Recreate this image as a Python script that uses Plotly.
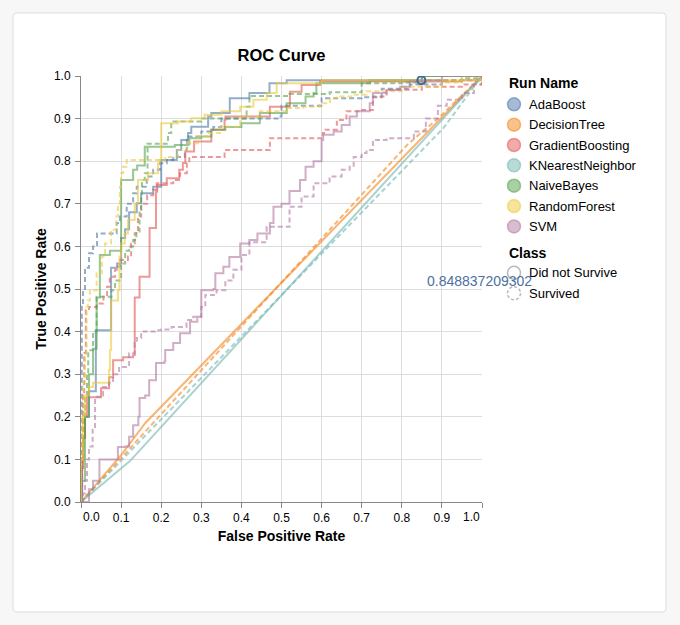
import plotly.graph_objects as go

# ---------------- data ----------------
RUN_NAMES = ["AdaBoost", "DecisionTree", "GradientBoosting", "KNearestNeighbor",
             "NaiveBayes", "RandomForest", "SVM"]
RUN_COLORS = ["#4c78a8", "#f58518", "#e45756", "#72b7b2", "#54a24b", "#eeca3b", "#b279a2"]
CLASS_NAMES = ["Did not Survive", "Survived"]
TICK_VALUES = [0.0, 0.1, 0.2, 0.3, 0.4, 0.5, 0.6, 0.7, 0.8, 0.9, 1.0]
TICK_LABELS = ["0.0", "0.1", "0.2", "0.3", "0.4", "0.5", "0.6", "0.7", "0.8", "0.9", "1.0"]

ada_dns_fpr = [0, 0.003, 0.003, 0.006, 0.01, 0.02, 0.037, 0.037, 0.075, 0.075, 0.09, 0.1, 0.11, 0.12, 0.139, 0.15, 0.18, 0.2, 0.2, 0.23, 0.239, 0.25, 0.267, 0.275, 0.317, 0.325, 0.367, 0.371, 0.42, 0.47, 0.513, 0.85, 1.0]
ada_dns_tpr = [0, 0, 0.1, 0.15, 0.2, 0.26, 0.26, 0.403, 0.403, 0.55, 0.56, 0.62, 0.64, 0.68, 0.701, 0.725, 0.74, 0.764, 0.803, 0.803, 0.826, 0.85, 0.866, 0.881, 0.905, 0.913, 0.913, 0.948, 0.96, 0.983, 0.99, 1.0, 1.0]
ada_sur_fpr = [0, 0.002, 0.002, 0.005, 0.01, 0.02, 0.03, 0.04, 0.089, 0.089, 0.097, 0.114, 0.13, 0.139, 0.164, 0.18, 0.197, 0.214, 0.23, 0.259, 0.264, 0.3, 0.33, 0.35, 0.49, 0.5, 0.6, 0.7, 0.75, 0.82, 0.9, 1.0, 1.0]
ada_sur_tpr = [0, 0, 0.467, 0.5, 0.55, 0.584, 0.6, 0.63, 0.63, 0.655, 0.67, 0.7, 0.725, 0.74, 0.764, 0.78, 0.795, 0.803, 0.81, 0.826, 0.858, 0.87, 0.88, 0.9, 0.905, 0.93, 0.948, 0.95, 0.97, 0.98, 0.99, 0.99, 1.0]

dt_dns_fpr = [0, 0.1, 0.16, 1.0]
dt_dns_tpr = [0, 0.11, 0.185, 1.0]
dt_sur_fpr = [0, 0.815, 0.89, 1.0]
dt_sur_tpr = [0, 0.84, 0.9, 1.0]

gb_dns_fpr = [0, 0.002, 0.005, 0.01, 0.015, 0.05, 0.05, 0.07, 0.07, 0.08, 0.08, 0.105, 0.13, 0.134, 0.134, 0.146, 0.146, 0.171, 0.171, 0.187, 0.187, 0.19, 0.214, 0.245, 0.245, 0.254, 0.26, 0.282, 0.325, 0.358, 0.36, 0.471, 0.521, 0.55, 0.596, 0.95, 1.0]
gb_dns_tpr = [0, 0.08, 0.15, 0.2, 0.246, 0.246, 0.267, 0.267, 0.293, 0.293, 0.333, 0.34, 0.345, 0.356, 0.48, 0.486, 0.529, 0.54, 0.643, 0.646, 0.728, 0.744, 0.76, 0.768, 0.78, 0.796, 0.823, 0.846, 0.874, 0.897, 0.905, 0.928, 0.963, 0.979, 0.987, 0.99, 1.0]
gb_sur_fpr = [0, 0, 0.003, 0.005, 0.008, 0.012, 0.02, 0.039, 0.056, 0.065, 0.072, 0.085, 0.092, 0.097, 0.117, 0.125, 0.134, 0.142, 0.15, 0.165, 0.18, 0.189, 0.215, 0.23, 0.247, 0.264, 0.27, 0.358, 0.358, 0.454, 0.471, 0.603, 0.61, 0.638, 0.662, 0.696, 0.728, 0.762, 0.85, 0.95, 1.0, 1.0]
gb_sur_tpr = [0, 0.08, 0.15, 0.25, 0.35, 0.45, 0.458, 0.466, 0.482, 0.505, 0.529, 0.545, 0.552, 0.568, 0.576, 0.607, 0.631, 0.67, 0.7, 0.72, 0.733, 0.748, 0.748, 0.756, 0.772, 0.795, 0.81, 0.81, 0.826, 0.826, 0.854, 0.866, 0.874, 0.897, 0.917, 0.92, 0.952, 0.968, 0.975, 0.98, 0.985, 1.0]

knn_dns_fpr = [0, 0.122, 1.0]
knn_dns_tpr = [0, 0.096, 1.0]
knn_sur_fpr = [0, 0.904, 1.0]
knn_sur_tpr = [0, 0.878, 1.0]

nb_dns_fpr = [0, 0, 0.01, 0.01, 0.015, 0.02, 0.03, 0.03, 0.039, 0.039, 0.047, 0.047, 0.072, 0.072, 0.1, 0.1, 0.13, 0.13, 0.14, 0.159, 0.159, 0.225, 0.234, 0.267, 0.27, 0.3, 0.325, 0.36, 0.4, 0.446, 0.513, 0.56, 0.58, 0.587, 0.72, 0.72, 0.85, 0.85, 1.0]
nb_dns_tpr = [0, 0.05, 0.05, 0.2, 0.2, 0.3, 0.3, 0.36, 0.36, 0.48, 0.48, 0.58, 0.58, 0.59, 0.59, 0.756, 0.756, 0.78, 0.79, 0.8, 0.834, 0.834, 0.838, 0.84, 0.854, 0.858, 0.874, 0.88, 0.889, 0.913, 0.936, 0.952, 0.96, 0.983, 0.983, 0.99, 0.99, 1.0, 1.0]
nb_sur_fpr = [0, 0, 0.005, 0.005, 0.01, 0.015, 0.018, 0.03, 0.039, 0.055, 0.076, 0.085, 0.1, 0.11, 0.12, 0.13, 0.138, 0.146, 0.15, 0.152, 0.159, 0.166, 0.166, 0.2, 0.217, 0.225, 0.3, 0.41, 0.413, 0.42, 0.52, 0.62, 0.7, 0.81, 0.86, 0.95, 1.0]
nb_sur_tpr = [0, 0.12, 0.12, 0.2, 0.25, 0.3, 0.356, 0.4, 0.482, 0.482, 0.497, 0.52, 0.56, 0.59, 0.6, 0.615, 0.631, 0.686, 0.72, 0.756, 0.772, 0.78, 0.841, 0.841, 0.866, 0.893, 0.9, 0.9, 0.928, 0.953, 0.958, 0.962, 0.983, 0.985, 0.99, 0.995, 1.0]

rf_dns_fpr = [0, 0, 0.005, 0.005, 0.01, 0.02, 0.03, 0.062, 0.07, 0.072, 0.075, 0.075, 0.092, 0.096, 0.1, 0.109, 0.117, 0.134, 0.142, 0.142, 0.167, 0.192, 0.196, 0.2, 0.242, 0.275, 0.308, 0.35, 0.397, 0.43, 0.463, 0.488, 0.488, 0.58, 0.6, 0.88, 1.0]
rf_dns_tpr = [0, 0.1, 0.1, 0.2, 0.25, 0.27, 0.28, 0.28, 0.31, 0.356, 0.427, 0.473, 0.497, 0.576, 0.607, 0.63, 0.662, 0.7, 0.733, 0.756, 0.772, 0.795, 0.803, 0.889, 0.893, 0.901, 0.909, 0.917, 0.928, 0.944, 0.96, 0.979, 0.983, 0.983, 0.99, 0.99, 1.0]
rf_sur_fpr = [0, 0, 0.003, 0.006, 0.01, 0.014, 0.017, 0.022, 0.039, 0.052, 0.06, 0.075, 0.088, 0.092, 0.097, 0.1, 0.105, 0.114, 0.2, 0.21, 0.242, 0.265, 0.292, 0.317, 0.347, 0.397, 0.446, 0.513, 0.554, 0.596, 0.621, 0.638, 0.679, 0.712, 0.8, 0.9, 0.95, 1.0]
rf_sur_tpr = [0, 0.1, 0.2, 0.28, 0.34, 0.458, 0.473, 0.497, 0.537, 0.576, 0.607, 0.639, 0.67, 0.7, 0.74, 0.772, 0.787, 0.803, 0.803, 0.81, 0.826, 0.842, 0.858, 0.866, 0.881, 0.905, 0.917, 0.925, 0.928, 0.936, 0.948, 0.952, 0.956, 0.964, 0.975, 0.985, 1.0, 1.0]

svm_dns_fpr = [0, 0.02, 0.02, 0.03, 0.046, 0.046, 0.07, 0.092, 0.11, 0.12, 0.13, 0.143, 0.146, 0.16, 0.17, 0.187, 0.208, 0.21, 0.23, 0.247, 0.272, 0.29, 0.3, 0.33, 0.335, 0.355, 0.37, 0.397, 0.42, 0.44, 0.471, 0.48, 0.5, 0.52, 0.546, 0.56, 0.58, 0.6, 0.604, 0.63, 0.65, 0.67, 0.688, 0.72, 0.728, 0.762, 0.796, 0.82, 0.85, 0.9, 1.0]
svm_dns_tpr = [0, 0, 0.03, 0.05, 0.082, 0.1, 0.1, 0.129, 0.13, 0.153, 0.18, 0.2, 0.244, 0.25, 0.286, 0.326, 0.33, 0.357, 0.373, 0.396, 0.423, 0.435, 0.497, 0.5, 0.537, 0.552, 0.575, 0.607, 0.615, 0.63, 0.655, 0.693, 0.7, 0.73, 0.756, 0.787, 0.8, 0.85, 0.862, 0.87, 0.885, 0.905, 0.917, 0.936, 0.96, 0.967, 0.975, 0.987, 0.99, 1.0, 1.0]
svm_sur_fpr = [0, 0.005, 0.01, 0.015, 0.02, 0.029, 0.035, 0.05, 0.055, 0.07, 0.08, 0.095, 0.12, 0.134, 0.139, 0.15, 0.187, 0.2, 0.226, 0.263, 0.28, 0.3, 0.31, 0.338, 0.36, 0.38, 0.4, 0.42, 0.463, 0.52, 0.55, 0.58, 0.62, 0.65, 0.67, 0.68, 0.7, 0.712, 0.728, 0.762, 0.812, 0.83, 0.86, 0.89, 0.912, 0.95, 0.98, 1.0]
svm_sur_tpr = [0, 0.02, 0.05, 0.1, 0.13, 0.176, 0.247, 0.25, 0.27, 0.28, 0.3, 0.317, 0.349, 0.373, 0.385, 0.4, 0.403, 0.405, 0.411, 0.427, 0.435, 0.458, 0.486, 0.497, 0.52, 0.545, 0.58, 0.61, 0.646, 0.693, 0.717, 0.748, 0.764, 0.78, 0.787, 0.81, 0.819, 0.826, 0.85, 0.854, 0.854, 0.87, 0.9, 0.93, 0.944, 0.96, 0.98, 1.0]

# highlighted point and its label
HOVER_FPR = [0.8488]
HOVER_TPR = [0.99]
HOVER_LABEL = "0.848837209302"
LABEL_FPR = 0.858
LABEL_TPR = 0.518

CURVES = {
    ("AdaBoost", "Did not Survive"): (ada_dns_fpr, ada_dns_tpr),
    ("AdaBoost", "Survived"): (ada_sur_fpr, ada_sur_tpr),
    ("DecisionTree", "Did not Survive"): (dt_dns_fpr, dt_dns_tpr),
    ("DecisionTree", "Survived"): (dt_sur_fpr, dt_sur_tpr),
    ("GradientBoosting", "Did not Survive"): (gb_dns_fpr, gb_dns_tpr),
    ("GradientBoosting", "Survived"): (gb_sur_fpr, gb_sur_tpr),
    ("KNearestNeighbor", "Did not Survive"): (knn_dns_fpr, knn_dns_tpr),
    ("KNearestNeighbor", "Survived"): (knn_sur_fpr, knn_sur_tpr),
    ("NaiveBayes", "Did not Survive"): (nb_dns_fpr, nb_dns_tpr),
    ("NaiveBayes", "Survived"): (nb_sur_fpr, nb_sur_tpr),
    ("RandomForest", "Did not Survive"): (rf_dns_fpr, rf_dns_tpr),
    ("RandomForest", "Survived"): (rf_sur_fpr, rf_sur_tpr),
    ("SVM", "Did not Survive"): (svm_dns_fpr, svm_dns_tpr),
    ("SVM", "Survived"): (svm_sur_fpr, svm_sur_tpr),
}

# ---------------- layout geometry (pixels) ----------------
FIG_W, FIG_H = 680, 625
PL, PR, PT, PB = 81, 482, 76, 502
PW, PH = PR - PL, PB - PT
FONT = "Liberation Sans, Arial, Helvetica, sans-serif"
DASH = "5px,3px"


def px_x(p):
    return (p - PL) / PW


def px_y(p):
    return (PB - p) / PH


def rgba(hex_color, a):
    h = hex_color.lstrip("#")
    r, g, b = int(h[0:2], 16), int(h[2:4], 16), int(h[4:6], 16)
    return f"rgba({r},{g},{b},{a})"


fig = go.Figure()

for run, color in zip(RUN_NAMES, RUN_COLORS):
    for cls in CLASS_NAMES:
        fpr, tpr = CURVES[(run, cls)]
        shape = "linear" if run in ("DecisionTree", "KNearestNeighbor") else "hv"
        fig.add_trace(go.Scatter(
            x=fpr, y=tpr, mode="lines",
            line=dict(color=color, width=2, shape=shape,
                      dash="solid" if cls == "Did not Survive" else DASH),
            opacity=0.6, showlegend=False, hoverinfo="skip",
            name=f"{run} / {cls}",
        ))

fig.add_trace(go.Scatter(
    x=HOVER_FPR, y=HOVER_TPR, mode="markers",
    marker=dict(symbol="circle-open", size=8, color="#3d6797", line=dict(width=2)),
    showlegend=False, hoverinfo="skip",
))

shapes = []
annotations = []

# card background
cl, cr, ct, cb, rr = 13, 666, 13, 612, 4
pts = [
    ("M", cl + rr, ct), ("L", cr - rr, ct), ("Q", cr, ct, cr, ct + rr),
    ("L", cr, cb - rr), ("Q", cr, cb, cr - rr, cb), ("L", cl + rr, cb),
    ("Q", cl, cb, cl, cb - rr), ("L", cl, ct + rr), ("Q", cl, ct, cl + rr, ct),
]
path = ""
for p in pts:
    if p[0] == "Q":
        path += f"Q{px_x(p[1]):.5f},{px_y(p[2]):.5f} {px_x(p[3]):.5f},{px_y(p[4]):.5f} "
    else:
        path += f"{p[0]}{px_x(p[1]):.5f},{px_y(p[2]):.5f} "
path += "Z"
shapes.append(dict(type="path", path=path, xref="paper", yref="paper",
                   fillcolor="white", line=dict(color="#dddddd", width=1), layer="below"))

# legend: Run Name
LEG_X_SYM, LEG_X_TXT = 514, 527
annotations.append(dict(text="<b>Run Name</b>", x=px_x(507), y=px_y(83), xref="paper", yref="paper",
                        xanchor="left", yanchor="middle", showarrow=False,
                        font=dict(size=14, color="#000", family=FONT)))
for i, (run, color) in enumerate(zip(RUN_NAMES, RUN_COLORS)):
    yc = 104.3 + 20.35 * i
    shapes.append(dict(type="circle", xref="paper", yref="paper", xsizemode="pixel", ysizemode="pixel",
                       xanchor=px_x(LEG_X_SYM), yanchor=px_y(yc), x0=-6.5, x1=6.5, y0=-6.5, y1=6.5,
                       fillcolor=rgba(color, 0.5), line=dict(color=rgba(color, 0.55), width=1.5)))
    annotations.append(dict(text=run, x=px_x(LEG_X_TXT), y=px_y(yc), xref="paper", yref="paper",
                            xanchor="left", yanchor="middle", showarrow=False,
                            font=dict(size=13, color="#000", family=FONT)))

# legend: Class
annotations.append(dict(text="<b>Class</b>", x=px_x(507), y=px_y(252.5), xref="paper", yref="paper",
                        xanchor="left", yanchor="middle", showarrow=False,
                        font=dict(size=14, color="#000", family=FONT)))
for i, cls in enumerate(CLASS_NAMES):
    yc = 272.8 + 20.5 * i
    shapes.append(dict(type="circle", xref="paper", yref="paper", xsizemode="pixel", ysizemode="pixel",
                       xanchor=px_x(LEG_X_SYM), yanchor=px_y(yc), x0=-6.5, x1=6.5, y0=-6.5, y1=6.5,
                       fillcolor="rgba(0,0,0,0)",
                       line=dict(color="rgba(136,136,136,0.6)", width=1.5,
                                 dash="solid" if i == 0 else "3px,2px")))
    annotations.append(dict(text=cls, x=px_x(LEG_X_TXT), y=px_y(yc), xref="paper", yref="paper",
                            xanchor="left", yanchor="middle", showarrow=False,
                            font=dict(size=13, color="#000", family=FONT)))

# value label
annotations.append(dict(text=HOVER_LABEL, x=LABEL_FPR, y=LABEL_TPR, xref="x", yref="y",
                        xanchor="left", yanchor="middle", showarrow=False,
                        font=dict(size=14, color="#4c6f9e", family=FONT)))

# x tick labels: first/last are flush with the axis ends (Vega style)
x_ticktext = ["" if i in (0, len(TICK_LABELS) - 1) else t for i, t in enumerate(TICK_LABELS)]
for idx, anchor in ((0, "left"), (len(TICK_LABELS) - 1, "right")):
    annotations.append(dict(text=TICK_LABELS[idx], x=TICK_VALUES[idx], y=0, xref="x", yref="y",
                            xanchor=anchor, yanchor="middle", yshift=-15, showarrow=False,
                            font=dict(size=12, color="#000", family=FONT)))

axis_common = dict(
    range=[0, 1], tickmode="array", tickvals=TICK_VALUES,
    showgrid=True, gridcolor="#dddddd", gridwidth=1, zeroline=False,
    showline=True, linecolor="#888888", linewidth=1,
    ticks="outside", ticklen=5, tickcolor="#888888", tickwidth=1,
    tickfont=dict(size=12, color="#000", family=FONT),
    automargin=False, fixedrange=True,
)

fig.update_layout(
    width=FIG_W, height=FIG_H,
    margin=dict(l=PL, r=FIG_W - PR, t=PT, b=FIG_H - PB, pad=0),
    paper_bgcolor="#f7f7f7", plot_bgcolor="white",
    font=dict(family=FONT, color="#000"),
    title=dict(text="<b>ROC Curve</b>", x=0.5, xref="paper", xanchor="center",
               y=1 - 55 / FIG_H, yref="container", yanchor="middle",
               font=dict(size=16.5, color="#000", family=FONT)),
    xaxis=dict(**axis_common, ticktext=x_ticktext,
               title=dict(text="<b>False Positive Rate</b>", standoff=6,
                          font=dict(size=14, color="#000", family=FONT))),
    yaxis=dict(**axis_common, ticktext=TICK_LABELS, ticklabelstandoff=2,
               title=dict(text="<b>True Positive Rate</b>", standoff=4,
                          font=dict(size=14, color="#000", family=FONT))),
    shapes=shapes, annotations=annotations, showlegend=False,
)

fig.write_html("out.html", config={"displayModeBar": False},
               post_script="document.body.style.margin='0';")
